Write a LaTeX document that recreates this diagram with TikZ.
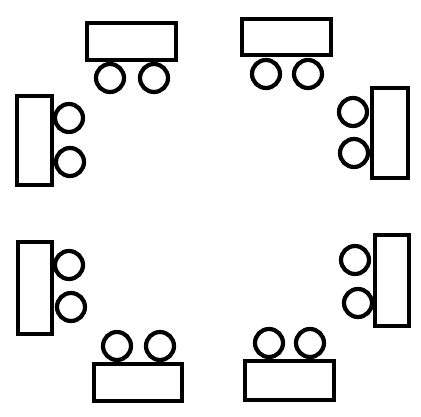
\documentclass[tikz,border=0pt]{standalone}
\usepackage{tikz}
\begin{document}
\begin{tikzpicture}[x=1pt,y=-1pt,line width=4.2pt]
\useasboundingbox (0,0) rectangle (421,417);
% cart bodies
\foreach \xa/\ya/\xb/\yb in {87/23/176/60, 242/19/331/55, 17/96/52/185, 372/88/408/178,
    18/242/52/334, 375/235/409/326, 94/364/182/401, 245/361/334/400} {
    \draw (\xa,\ya) rectangle (\xb,\yb);
}
% wheels
\foreach \cx/\cy in {110/78, 154/78, 266/74, 308/74, 69/118, 70/162, 353/112, 354/153,
    69/265, 71/307, 355/260, 358/303, 117/346, 160/346, 269/343, 310/343} {
    \draw (\cx,\cy) circle (14pt);
}
\end{tikzpicture}
\end{document}
